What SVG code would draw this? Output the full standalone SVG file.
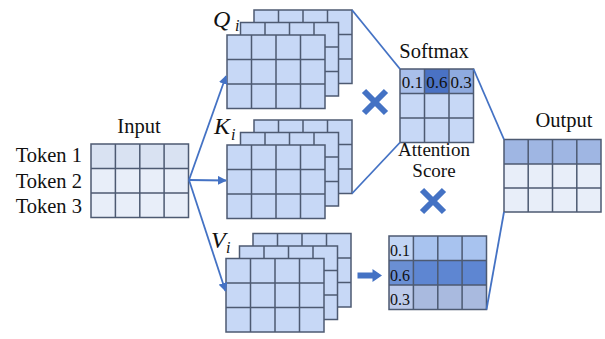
<svg xmlns="http://www.w3.org/2000/svg" width="605" height="339" viewBox="0 0 605 339">
  <defs>
    <style>
      text { font-family: "Liberation Serif", "Times New Roman", serif; fill: #111; }
      .lbl { font-size: 20.5px; }
      .cap { font-size: 19px; }
      .num { font-size: 17px; }
      .wnum { font-size: 16px; }
      .math { font-size: 24px; font-style: italic; }
      .sub { font-size: 16px; font-style: italic; }
      .grid { stroke: #4d5a72; stroke-width: 1.5; }
      .lite { fill: #c7d8f6; }
      .pale { fill: #e8eef9; }
      .conn { stroke: #4472c4; stroke-width: 1.8; fill: none; }
      .cross { stroke: #4472c4; stroke-width: 6; }
    </style>
    <marker id="ah" viewBox="0 0 10 10" refX="9" refY="5" markerWidth="5" markerHeight="5" orient="auto" markerUnits="strokeWidth">
      <path d="M0,0 L10,5 L0,10 z" fill="#4472c4"/>
    </marker>
    <!-- one 4x3 matrix slice, 98 x 73.5 -->
    <g id="slice">
      <rect x="0" y="0" width="98" height="73.5" class="lite grid"/>
      <path class="grid" d="M24.5,0 V73.5 M49,0 V73.5 M73.5,0 V73.5 M0,24.5 H98 M0,49 H98"/>
    </g>
  </defs>

  <!-- Input tokens -->
  <g id="input">
    <text class="lbl" x="139" y="133" text-anchor="middle">Input</text>
    <text class="lbl" x="82" y="162" text-anchor="end">Token 1</text>
    <text class="lbl" x="82" y="188" text-anchor="end">Token 2</text>
    <text class="lbl" x="82" y="213" text-anchor="end">Token 3</text>
    <rect x="91" y="144" width="97.5" height="24.5" fill="#d9e2f2"/>
    <rect x="91" y="168.5" width="97.5" height="49" class="pale"/>
    <rect x="91" y="144" width="97.5" height="73.5" fill="none" class="grid"/>
    <path class="grid" d="M115.4,144 V217.5 M139.8,144 V217.5 M164.1,144 V217.5 M91,168.5 H188.5 M91,193 H188.5"/>
  </g>

  <!-- Query stack -->
  <g id="query">
    <use href="#slice" x="254" y="10"/>
    <use href="#slice" x="240.5" y="22.5"/>
    <use href="#slice" x="227" y="35"/>
    <text class="math" x="213" y="27">Q</text>
    <text class="sub" x="235" y="31">i</text>
  </g>

  <!-- Key stack -->
  <g id="key">
    <use href="#slice" x="254" y="120"/>
    <use href="#slice" x="240.5" y="132.5"/>
    <use href="#slice" x="227" y="145"/>
    <text class="math" x="214" y="134">K</text>
    <text class="sub" x="231" y="140">i</text>
  </g>

  <!-- Value stack -->
  <g id="value">
    <use href="#slice" x="253" y="233.5"/>
    <use href="#slice" x="239.5" y="246"/>
    <use href="#slice" x="226" y="258.5"/>
    <text class="math" x="211" y="248">V</text>
    <text class="sub" x="226" y="253">i</text>
  </g>

  <!-- Softmax attention scores -->
  <g id="softmax">
    <text class="lbl" x="434" y="58" text-anchor="middle">Softmax</text>
    <rect x="400" y="69" width="73.5" height="73.5" class="lite"/>
    <rect x="400" y="69" width="24.5" height="24.5" fill="#a9bfea"/>
    <rect x="424.5" y="69" width="24.5" height="24.5" fill="#4a72c4"/>
    <rect x="449" y="69" width="24.5" height="24.5" fill="#8eaadf"/>
    <rect x="400" y="69" width="73.5" height="73.5" fill="none" class="grid"/>
    <path class="grid" d="M424.5,69 V142.5 M449,69 V142.5 M400,93.5 H473.5 M400,118 H473.5"/>
    <text class="num" x="412.3" y="87.5" text-anchor="middle">0.1</text>
    <text class="num" x="436.8" y="87.5" text-anchor="middle">0.6</text>
    <text class="num" x="461.2" y="87.5" text-anchor="middle">0.3</text>
    <text class="cap" x="434" y="156" text-anchor="middle">Attention</text>
    <text class="cap" x="434" y="177" text-anchor="middle">Score</text>
  </g>

  <!-- Weighted values -->
  <g id="weighted">
    <rect x="389" y="236" width="97.5" height="24.5" fill="#a8c3ef"/>
    <rect x="389" y="260.5" width="97.5" height="24.5" fill="#5e86d2"/>
    <rect x="389" y="285" width="97.5" height="24.5" fill="#a9badf"/>
    <rect x="389" y="236" width="24.5" height="24.5" fill="#c2d5f4"/>
    <rect x="389" y="260.5" width="24.5" height="24.5" fill="#6a8fd4"/>
    <rect x="389" y="285" width="24.5" height="24.5" fill="#bccaea"/>
    <rect x="389" y="236" width="97.5" height="73.5" fill="none" class="grid"/>
    <path class="grid" d="M413.4,236 V309.5 M437.8,236 V309.5 M462.1,236 V309.5 M389,260.5 H486.5 M389,285 H486.5"/>
    <text class="wnum" x="390" y="256">0.1</text>
    <text class="wnum" x="390" y="281">0.6</text>
    <text class="wnum" x="390" y="305">0.3</text>
  </g>

  <!-- Output -->
  <g id="output">
    <text class="lbl" x="564" y="127" text-anchor="middle">Output</text>
    <rect x="504" y="139.5" width="97" height="24.5" fill="#9fb6e3"/>
    <rect x="504" y="164" width="97" height="48" class="pale"/>
    <rect x="504" y="139.5" width="97" height="72.5" fill="none" class="grid"/>
    <path class="grid" d="M528.2,139.5 V212 M552.5,139.5 V212 M576.8,139.5 V212 M504,164 H601 M504,188 H601"/>
  </g>

  <!-- Operators -->
  <g id="mult1">
    <path class="cross" d="M364,91 L386,113 M386,91 L364,113"/>
  </g>
  <g id="mult2">
    <path class="cross" d="M422,190 L444,212 M444,190 L422,212"/>
  </g>

  <!-- Connectors -->
  <g id="connectors">
    <path class="conn" d="M189,180 L226,76" marker-end="url(#ah)"/>
    <path class="conn" d="M189,180 L226,180.5" marker-end="url(#ah)"/>
    <path class="conn" d="M189,180 L225.5,291" marker-end="url(#ah)"/>
    <path class="conn" d="M352,10 L400,69"/>
    <path class="conn" d="M352,193.5 L400,142.5"/>
    <path class="conn" d="M473.5,69 L504,139.5"/>
    <path class="conn" d="M486.5,309.5 L504,212"/>
    <polygon points="357.5,272.5 372.5,272.5 372.5,269 382,275.5 372.5,282 372.5,278.5 357.5,278.5" fill="#4472c4"/>
  </g>
</svg>
